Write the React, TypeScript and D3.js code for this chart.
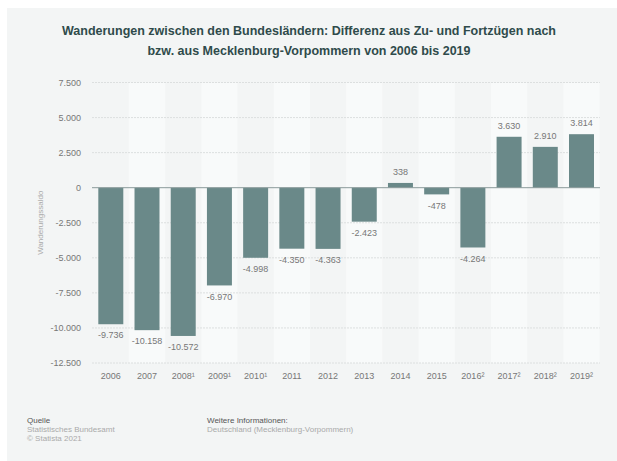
import React from "react";
import * as d3 from "d3";

const years = ["2006", "2007", "2008¹", "2009¹", "2010¹", "2011", "2012", "2013", "2014", "2015", "2016²", "2017²", "2018²", "2019²"];
const values = [-9736, -10158, -10572, -6970, -4998, -4350, -4363, -2423, 338, -478, -4264, 3630, 2910, 3814];
const yTicks = [7500, 5000, 2500, 0, -2500, -5000, -7500, -10000, -12500];
const titleLines = [
  "Wanderungen zwischen den Bundesländern: Differenz aus Zu- und Fortzügen nach",
  "bzw. aus Mecklenburg-Vorpommern von 2006 bis 2019",
];

const W = 617;
const H = 461;
const font = "'Liberation Sans', Arial, Helvetica, sans-serif";
const fmt = (v: number) => {
  const s = Math.abs(v).toString().replace(/\B(?=(\d{3})+(?!\d))/g, ".");
  return (v < 0 ? "-" : "") + s;
};

export default function App() {
  const x = d3.scaleBand<string>().domain(years).range([92.7, 599.6]).paddingInner(0.31).paddingOuter(0.155);
  const xb = d3.scaleBand<string>().domain(years).range([92.7, 599.6]).padding(0);
  const y = d3.scaleLinear().domain([-12500, 7500]).range([363, 82.5]);
  return (
    <svg width={W} height={H} style={{ position: "absolute", left: 0, top: 0 }} fontFamily={font}>
      <rect x={7} y={8} width={W - 7} height={H - 8} fill="#f3f5f5" />
      {years.map((yr, i) =>
        i % 2 === 1 ? (
          <rect key={"b" + yr} x={xb(yr)} y={y(7500)} width={xb.bandwidth()} height={y(-12500) - y(7500)} fill="#f8fafa" />
        ) : null
      )}
      {yTicks.map((t) => (
        <g key={"t" + t}>
          {t !== 0 && (
            <line x1={92} x2={600} y1={y(t)} y2={y(t)} stroke="#dcdfdf" strokeWidth={1} strokeDasharray="2,1" />
          )}
          <text x={81} y={y(t)} dy="0.35em" textAnchor="end" fontSize={9} fill="#777">
            {fmt(t)}
          </text>
        </g>
      ))}
      {years.map((yr, i) => {
        const v = values[i];
        const top = Math.min(y(v), y(0));
        const h = Math.abs(y(v) - y(0));
        return (
          <g key={"bar" + yr}>
            <rect x={x(yr)} y={top} width={x.bandwidth()} height={h} fill="#6a8989" />
            <text
              x={(x(yr) as number) + x.bandwidth() / 2}
              y={v < 0 ? y(v) + 11 : y(v) - 11}
              dy="0.35em"
              textAnchor="middle"
              fontSize={9}
              fill="#777"
            >
              {fmt(v)}
            </text>
            <text x={(x(yr) as number) + x.bandwidth() / 2} y={376} dy="0.35em" textAnchor="middle" fontSize={9} fill="#777">
              {yr}
            </text>
          </g>
        );
      })}
      <line x1={92} x2={600} y1={y(0)} y2={y(0)} stroke="#8a9a9a" strokeWidth={1} />
      <text transform={`translate(40,${(y(7500) + y(-12500)) / 2}) rotate(-90)`} textAnchor="middle" dy="0.35em" fontSize={8} fill="#aaa">
        Wanderungssaldo
      </text>
      {titleLines.map((l, i) => (
        <text key={"title" + i} x={309} y={31 + i * 20} dy="0.35em" textAnchor="middle" fontSize={12.5} fontWeight="bold" fill="#2f4b4b">
          {l}
        </text>
      ))}
      <text x={27} y={420} dy="0.35em" fontSize={8} fill="#555">Quelle</text>
      <text x={27} y={429.5} dy="0.35em" fontSize={8} fill="#aaa">Statistisches Bundesamt</text>
      <text x={27} y={438.5} dy="0.35em" fontSize={8} fill="#aaa">© Statista 2021</text>
      <text x={207} y={420} dy="0.35em" fontSize={8} fill="#555">Weitere Informationen:</text>
      <text x={207} y={429.5} dy="0.35em" fontSize={8} fill="#aaa">Deutschland (Mecklenburg-Vorpommern)</text>
    </svg>
  );
}
